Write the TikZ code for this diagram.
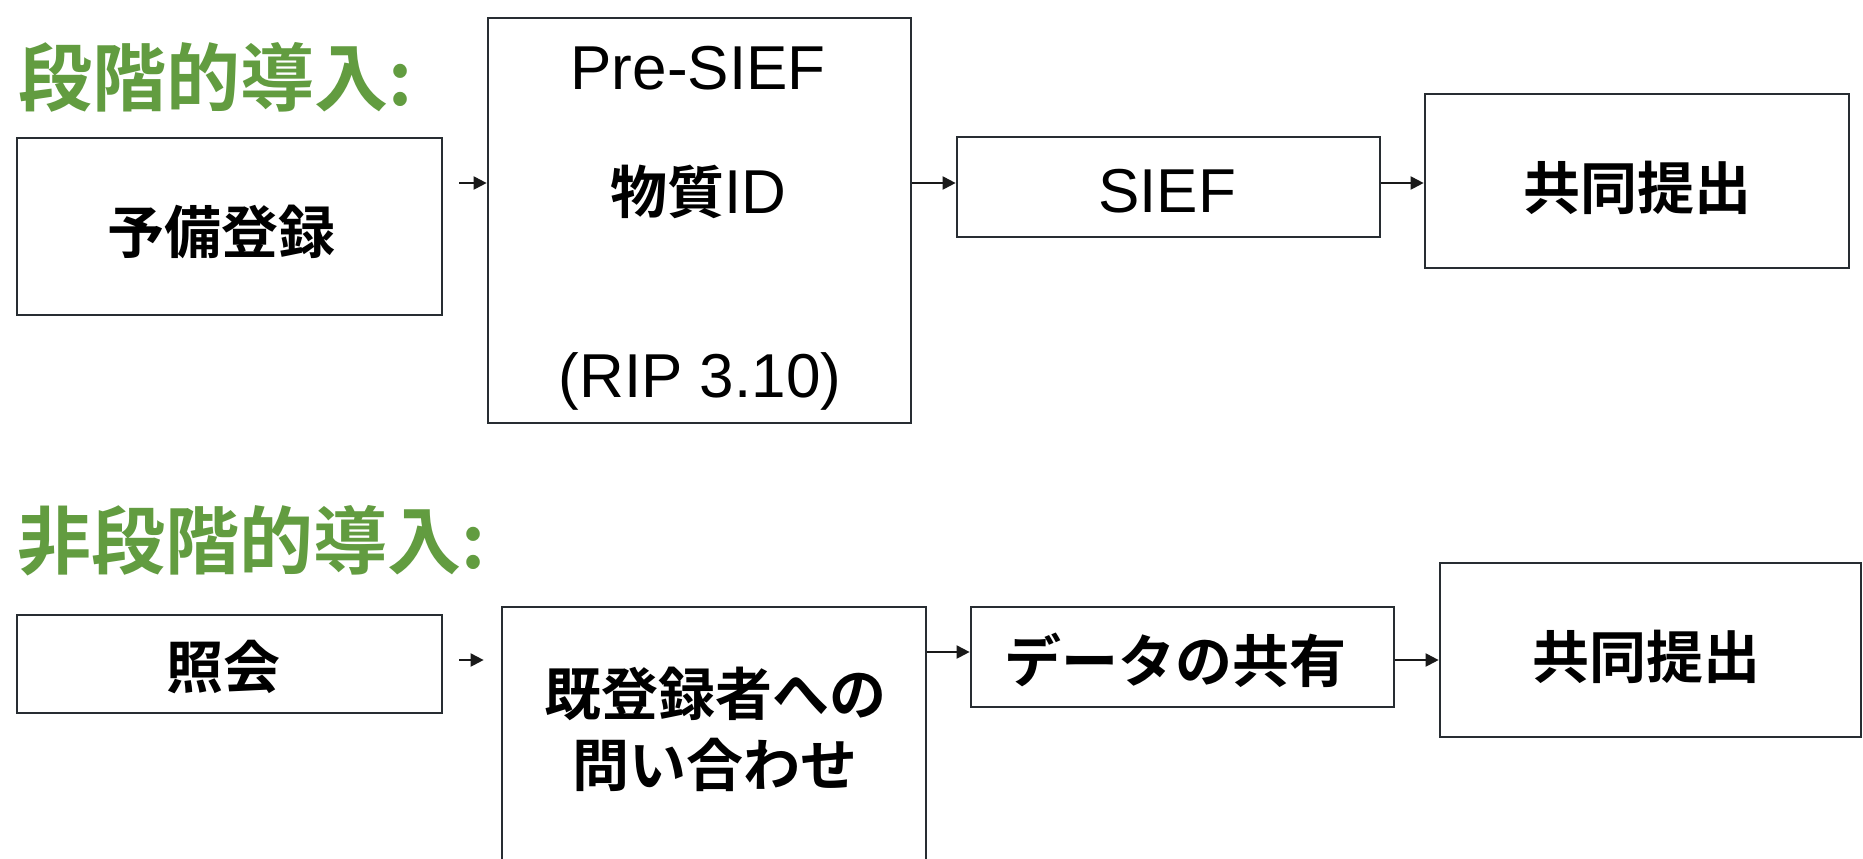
\documentclass[tikz,border=0pt]{standalone}
\usepackage{fontspec}
\setmainfont{Liberation Sans}
\newfontfamily\jp{Noto Sans CJK JP Bold}
\usetikzlibrary{arrows.meta}
\definecolor{titlegreen}{RGB}{98,156,64}
\definecolor{boxline}{RGB}{40,45,50}
\begin{document}
\begin{tikzpicture}[x=0.5pt,y=-0.5pt,
  box/.style={draw=boxline, line width=1.35pt, fill=white, inner sep=0pt},
  arr/.style={draw=black!90, line width=1pt, -{Triangle[length=6.5pt,width=6.5pt]}},
  jpt/.style={font=\jp\fontsize{28.5}{34}\selectfont, inner sep=0pt},
  lat/.style={font=\fontsize{31}{36}\selectfont, inner sep=0pt},
  ttl/.style={font=\jp\fontsize{37}{44}\selectfont, text=titlegreen, inner sep=0pt, anchor=west}]
\useasboundingbox[fill=white] (0,0) rectangle (1863,858);
\clip (0,0) rectangle (1863,858);
% titles
\node[ttl] (t1) at (18,77) {段階的導入:};
\node[ttl] (t2) at (17,541) {非段階的導入:};
% boxes, phase-in
\node[box, minimum width=212.5pt, minimum height=88.5pt] (yobi) at (229.5,226.5) {};
\node[box, minimum width=211.5pt, minimum height=202.5pt] (pre) at (699.5,220.5) {};
\node[box, minimum width=211.5pt, minimum height=50pt] (sief) at (1168.5,187) {};
\node[box, minimum width=212pt, minimum height=87pt] (kyo1) at (1637,181) {};
% boxes, non-phase-in
\node[box, minimum width=212.5pt, minimum height=49pt] (shokai) at (229.5,664) {};
\node[box, minimum width=212pt, minimum height=130pt] (kitou) at (714,737) {};
\node[box, minimum width=211.5pt, minimum height=50pt] (data) at (1182.5,657) {};
\node[box, minimum width=210.5pt, minimum height=87pt] (kyo2) at (1650.5,650) {};
% texts
\node[jpt] (yobit) at (221,232) {予備登録};
\node[lat, anchor=base] (pret) at (698,89) {Pre-SIEF};
\node[lat, anchor=base] (butt) at (698,213) {{\jp\fontsize{28.5}{34}\selectfont 物質}ID};
\node[lat, anchor=base] (ript) at (700,397) {(RIP 3.10)};
\node[lat, anchor=base] (sieft) at (1167,212) {SIEF};
\node[jpt] (kyo1t) at (1637,188) {共同提出};
\node[jpt] (shokait) at (223,667) {照会};
\node[jpt] (kitout1) at (715,694) {既登録者への};
\node[jpt] (kitout2) at (715,765) {問い合わせ};
\node[jpt] (datat) at (1175,660) {データの共有};
\node[jpt] (kyo2t) at (1646,657) {共同提出};
% arrows
\coordinate (r1) at (0,183);
\coordinate (r2) at (0,660);
\coordinate (r3) at (0,652);
\draw[arr, shorten <=8pt] (yobi.east |- r1) -- (pre.west |- r1);
\draw[arr] (pre.east |- r1) -- (sief.west |- r1);
\draw[arr] (sief.east |- r1) -- (kyo1.west |- r1);
\draw[arr, shorten <=8pt, shorten >=8.5pt] (shokai.east |- r2) -- (kitou.west |- r2);
\draw[arr] (kitou.east |- r3) -- (data.west |- r3);
\draw[arr] (data.east |- r2) -- (kyo2.west |- r2);
\end{tikzpicture}
\end{document}
